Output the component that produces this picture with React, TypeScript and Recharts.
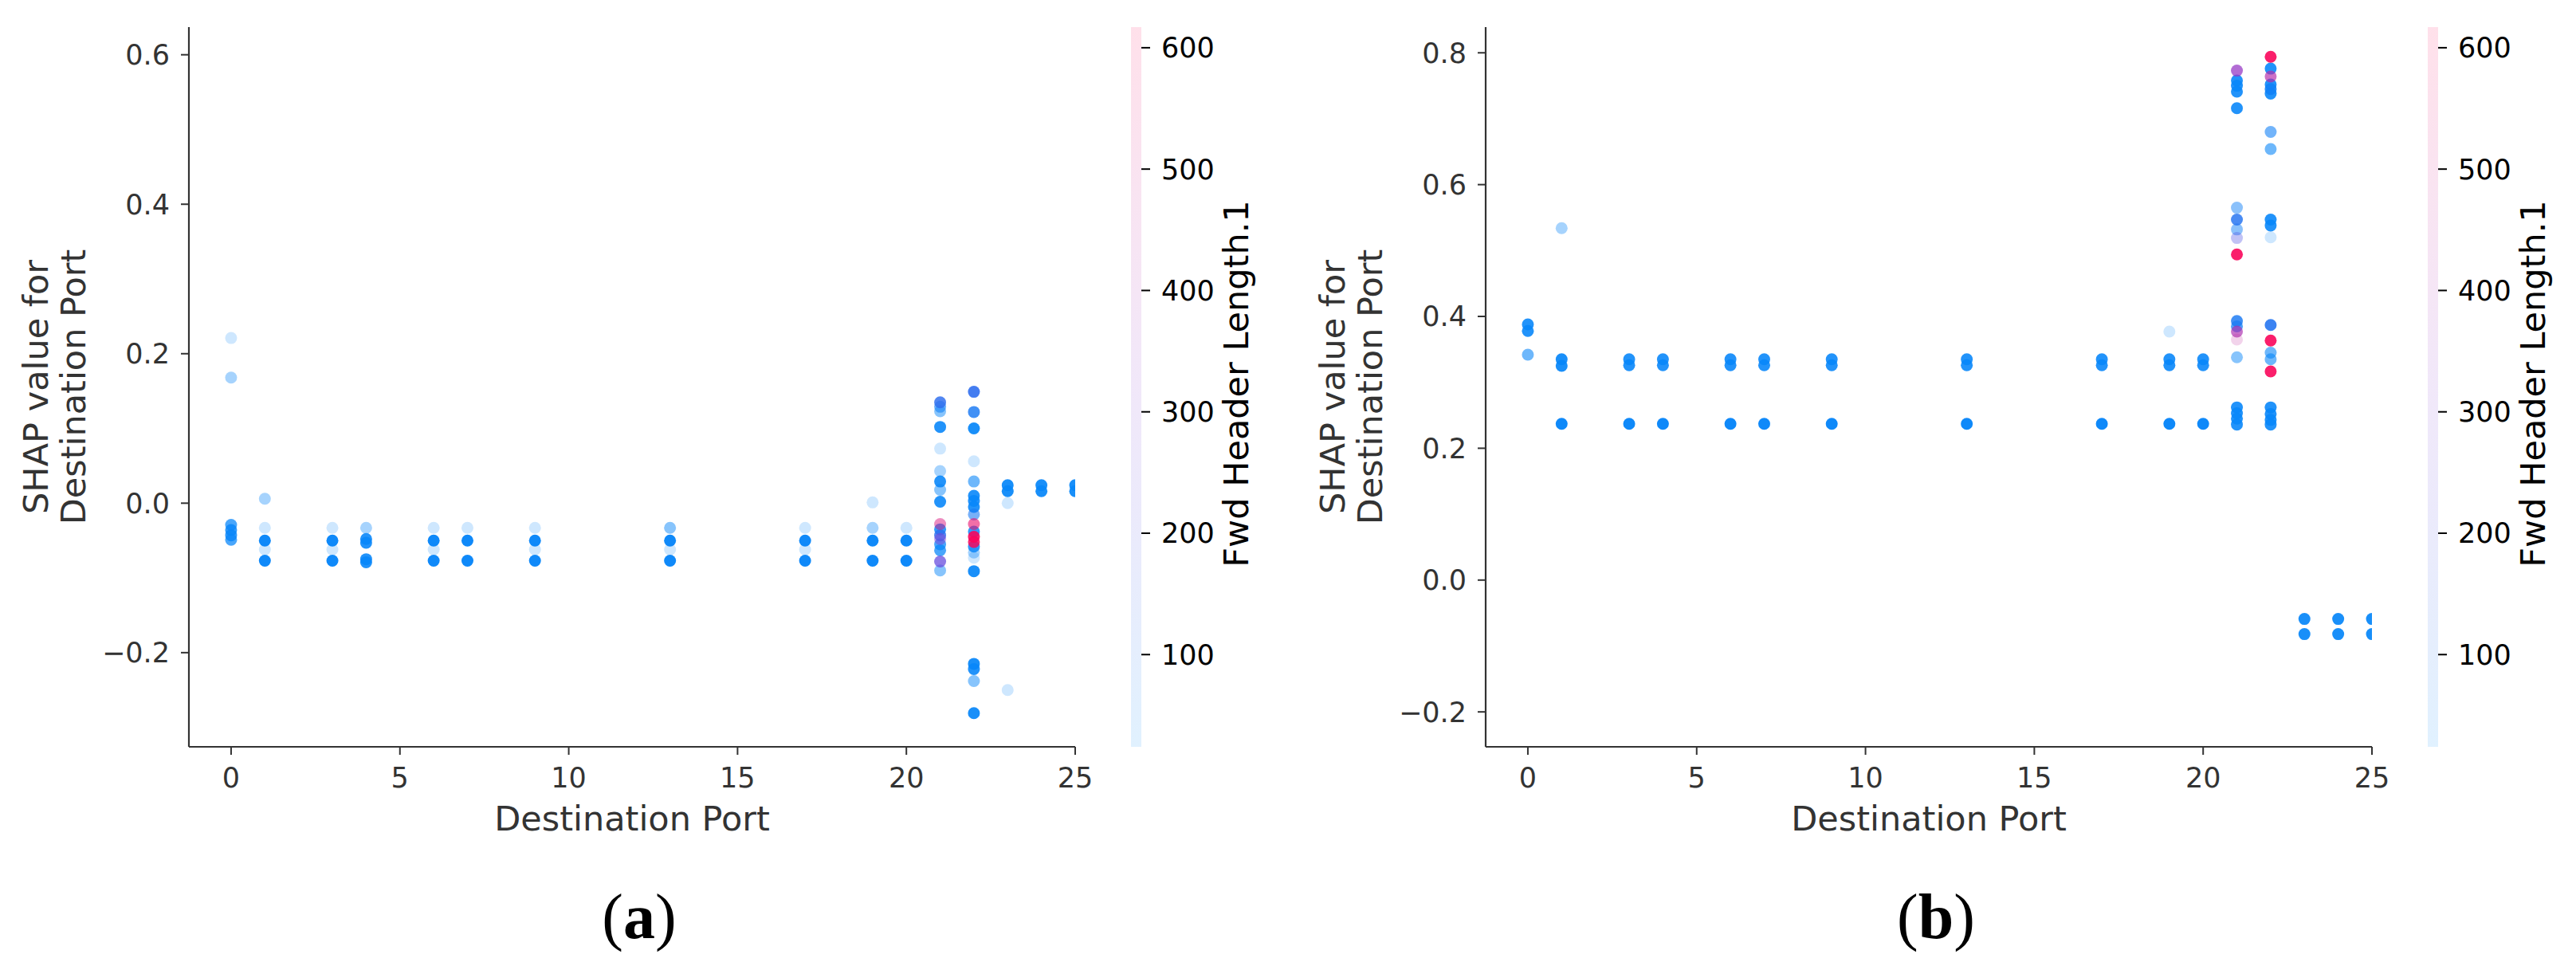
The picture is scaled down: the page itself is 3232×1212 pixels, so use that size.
import React from 'react';
import { ScatterChart, Scatter, XAxis, YAxis } from 'recharts';

// [destination port, SHAP value, Fwd Header Length.1, overlapping samples]
type Pt = [number, number, number, number];

const xTicks = [0, 5, 10, 15, 20, 25];
const shapTicksA = [-0.2, 0, 0.2, 0.4, 0.6];
const shapTicksB = [-0.2, 0, 0.2, 0.4, 0.6, 0.8];
const headerTicks = [100, 200, 300, 400, 500, 600];
const headerRange: [number, number] = [24, 617];

const pointsA: Pt[] = [
  [0, 0.221, 40, 1], [0, 0.168, 40, 2],
  [0, -0.029, 40, 6], [0, -0.036, 40, 8], [0, -0.043, 40, 8], [0, -0.049, 40, 6],
  [1, 0.006, 40, 2], [1, -0.033, 40, 1], [1, -0.05, 40, 16], [1, -0.062, 40, 1], [1, -0.077, 40, 16],
  [3, -0.033, 40, 1], [3, -0.05, 40, 16], [3, -0.062, 40, 1], [3, -0.077, 40, 16],
  [4, -0.033, 40, 2], [4, -0.048, 40, 10], [4, -0.053, 40, 10], [4, -0.075, 40, 10], [4, -0.079, 40, 10],
  [6, -0.033, 40, 1], [6, -0.05, 40, 16], [6, -0.062, 40, 1], [6, -0.077, 40, 16],
  [7, -0.033, 40, 1], [7, -0.05, 40, 16], [7, -0.077, 40, 16],
  [9, -0.033, 40, 1], [9, -0.05, 40, 16], [9, -0.062, 40, 1], [9, -0.077, 40, 16],
  [13, -0.033, 40, 3], [13, -0.05, 40, 16], [13, -0.062, 40, 1], [13, -0.077, 40, 16],
  [17, -0.033, 40, 1], [17, -0.05, 40, 16], [17, -0.062, 40, 1], [17, -0.077, 40, 16],
  [19, 0.001, 40, 1], [19, -0.033, 40, 2], [19, -0.05, 40, 16], [19, -0.077, 40, 16],
  [20, -0.033, 40, 1], [20, -0.05, 40, 16], [20, -0.077, 40, 16],
  [21, 0.135, 120, 8], [21, 0.129, 60, 4], [21, 0.123, 40, 3], [21, 0.102, 40, 10],
  [21, 0.073, 40, 1], [21, 0.043, 40, 2], [21, 0.029, 40, 10], [21, 0.018, 40, 3], [21, 0.002, 40, 10],
  [21, -0.028, 520, 3], [21, -0.035, 40, 8], [21, -0.043, 120, 8], [21, -0.048, 300, 3],
  [21, -0.055, 40, 6], [21, -0.063, 40, 6], [21, -0.078, 240, 6], [21, -0.09, 40, 3],
  [22, 0.149, 120, 10], [22, 0.122, 80, 8], [22, 0.1, 40, 12], [22, 0.056, 40, 1],
  [22, 0.029, 40, 4], [22, 0.01, 40, 10], [22, 0.003, 40, 10], [22, -0.005, 40, 10], [22, -0.015, 80, 4],
  [22, -0.028, 560, 4], [22, -0.038, 40, 8], [22, -0.045, 600, 10], [22, -0.052, 600, 8],
  [22, -0.058, 40, 8], [22, -0.066, 40, 2], [22, -0.073, 40, 1], [22, -0.091, 40, 12],
  [22, -0.215, 40, 12], [22, -0.222, 40, 10], [22, -0.238, 40, 3], [22, -0.281, 40, 12],
  [23, 0.024, 40, 12], [23, 0.016, 40, 12], [23, 0.0, 40, 1], [23, -0.25, 40, 1],
  [24, 0.024, 40, 12], [24, 0.016, 40, 12],
  [25, 0.024, 40, 12], [25, 0.016, 40, 12],
];

const pointsB: Pt[] = [
  [0, 0.388, 40, 10], [0, 0.378, 40, 10], [0, 0.342, 40, 4],
  [1, 0.534, 40, 2], [1, 0.335, 40, 12], [1, 0.325, 40, 12], [1, 0.237, 40, 16],
  [3, 0.335, 40, 10], [3, 0.326, 40, 10], [3, 0.237, 40, 16],
  [4, 0.335, 40, 10], [4, 0.326, 40, 10], [4, 0.237, 40, 16],
  [6, 0.335, 40, 10], [6, 0.326, 40, 10], [6, 0.237, 40, 16],
  [7, 0.335, 40, 10], [7, 0.326, 40, 10], [7, 0.237, 40, 16],
  [9, 0.335, 40, 10], [9, 0.326, 40, 10], [9, 0.237, 40, 16],
  [13, 0.335, 40, 10], [13, 0.326, 40, 10], [13, 0.237, 40, 16],
  [17, 0.335, 40, 10], [17, 0.326, 40, 10], [17, 0.237, 40, 16],
  [19, 0.377, 40, 1], [19, 0.335, 40, 10], [19, 0.326, 40, 10], [19, 0.237, 40, 16],
  [20, 0.335, 40, 10], [20, 0.326, 40, 10], [20, 0.237, 40, 16],
  [21, 0.773, 350, 6], [21, 0.758, 40, 10], [21, 0.75, 40, 10], [21, 0.741, 40, 10], [21, 0.716, 40, 10],
  [21, 0.565, 60, 3], [21, 0.547, 100, 8], [21, 0.532, 60, 3], [21, 0.519, 200, 2], [21, 0.494, 600, 10],
  [21, 0.393, 80, 8], [21, 0.385, 60, 6], [21, 0.377, 400, 5], [21, 0.365, 450, 1], [21, 0.338, 40, 3],
  [21, 0.262, 40, 10], [21, 0.253, 40, 10], [21, 0.245, 40, 10], [21, 0.236, 40, 10],
  [22, 0.794, 600, 10], [22, 0.776, 40, 10], [22, 0.764, 420, 5], [22, 0.752, 40, 10], [22, 0.745, 60, 10],
  [22, 0.738, 40, 10], [22, 0.68, 60, 4], [22, 0.654, 40, 4], [22, 0.547, 40, 10], [22, 0.538, 40, 10],
  [22, 0.52, 40, 1], [22, 0.387, 100, 10], [22, 0.3635, 600, 10], [22, 0.345, 40, 4], [22, 0.335, 40, 4],
  [22, 0.3165, 600, 10], [22, 0.262, 40, 10], [22, 0.252, 40, 10], [22, 0.243, 40, 10], [22, 0.236, 40, 10],
  [23, -0.059, 40, 12], [23, -0.082, 40, 12],
  [24, -0.059, 40, 12], [24, -0.082, 40, 12],
  [25, -0.059, 40, 12], [25, -0.082, 40, 12],
];

const FONT = '"DejaVu Sans", sans-serif';
const INK = '#333333';
const W = 1605;
const H = 1212;
const TOP = 34;
const LEFT = 237;
const RIGHT = 1349;
const BOTTOM = 937;
const MID_X = (LEFT + RIGHT) / 2;
const MID_Y = (TOP + BOTTOM) / 2;

// shap red_blue-like ramp
const ramp: [number, number[]][] = [
  [0, [0, 139, 251]],
  [0.33, [93, 79, 224]],
  [0.5, [138, 61, 208]],
  [0.67, [181, 42, 168]],
  [1, [255, 0, 82]],
];

function redBlue(t: number) {
  const v = Math.max(0, Math.min(1, t));
  for (let i = 1; i < ramp.length; i++) {
    const [t1, c1] = ramp[i];
    const [t0, c0] = ramp[i - 1];
    if (v <= t1) {
      const f = (v - t0) / (t1 - t0);
      const c = c0.map((a, k) => Math.round(a + (c1[k] - a) * f));
      return `rgb(${c[0]},${c[1]},${c[2]})`;
    }
  }
  return 'rgb(255,0,82)';
}

const headerColor = (h: number) => redBlue((h - headerRange[0]) / (headerRange[1] - headerRange[0]));
const fmt = (v: number) => v.toFixed(1).replace('-', '\u2212');

function Dot(props: any) {
  const { cx, cy, payload } = props;
  if (cx == null || cy == null) return null;
  return (
    <circle
      cx={cx}
      cy={cy}
      r={7.5}
      fill={headerColor(payload.header)}
      fillOpacity={1 - Math.pow(0.8, payload.n)}
    />
  );
}

function BarTick(props: any) {
  const { y, payload } = props;
  return (
    <g>
      <line x1={1432} x2={1443} y1={y} y2={y} stroke="#000" strokeWidth={2} />
      <text x={1457} y={y} dy="0.355em" fontSize={35} fontFamily={FONT} fill="#000">
        {payload.value}
      </text>
    </g>
  );
}

function Panel({ points, yDomain, yTicks, tag }: { points: Pt[]; yDomain: [number, number]; yTicks: number[]; tag: string }) {
  const data = [...points]
    .sort((a, b) => a[2] - b[2])
    .map(([port, shap, header, n]) => ({ port, shap, header, n }));
  const gid = `cbar-${tag}`;

  return (
    <ScatterChart width={W} height={H} margin={{ top: TOP, right: 0, bottom: 0, left: 0 }}>
      <defs>
        <linearGradient id={gid} x1="0" y1="1" x2="0" y2="0">
          {ramp.map(([t]) => (
            <stop key={t} offset={t} stopColor={redBlue(t)} stopOpacity={0.12} />
          ))}
        </linearGradient>
      </defs>
      <XAxis
        type="number"
        dataKey="port"
        domain={[-1.25, 25]}
        ticks={xTicks}
        interval={0}
        allowDataOverflow
        height={H - BOTTOM}
        tickSize={10}
        tickMargin={16}
        axisLine={{ stroke: INK, strokeWidth: 2.2 }}
        tickLine={{ stroke: INK, strokeWidth: 2 }}
        tick={{ fill: INK, fontSize: 35, fontFamily: FONT }}
      />
      <YAxis
        yAxisId="shap"
        type="number"
        dataKey="shap"
        domain={yDomain}
        ticks={yTicks}
        interval={0}
        allowDataOverflow
        width={LEFT}
        tickSize={10}
        tickMargin={14}
        tickFormatter={fmt}
        axisLine={{ stroke: INK, strokeWidth: 2.2 }}
        tickLine={{ stroke: INK, strokeWidth: 2 }}
        tick={{ fill: INK, fontSize: 35, fontFamily: FONT }}
      />
      <YAxis
        yAxisId="bar"
        orientation="right"
        type="number"
        domain={headerRange}
        ticks={headerTicks}
        interval={0}
        allowDataOverflow
        width={W - RIGHT}
        axisLine={false}
        tickLine={false}
        tick={(p: any) => <BarTick {...p} />}
      />
      <Scatter yAxisId="shap" data={data} shape={(p: any) => <Dot {...p} />} isAnimationActive={false} />
      <rect x={1419} y={TOP} width={13} height={BOTTOM - TOP} fill={`url(#${gid})`} />
      <text
        transform={`translate(1566, ${MID_Y - 4}) rotate(-90)`}
        textAnchor="middle"
        fontSize={43}
        fontFamily={FONT}
        fill="#000"
      >
        Fwd Header Length.1
      </text>
      <text transform={`translate(60, ${MID_Y}) rotate(-90)`} textAnchor="middle" fontSize={43} fontFamily={FONT} fill={INK}>
        SHAP value for
      </text>
      <text transform={`translate(107, ${MID_Y}) rotate(-90)`} textAnchor="middle" fontSize={43} fontFamily={FONT} fill={INK}>
        Destination Port
      </text>
      <text x={MID_X} y={1042} textAnchor="middle" fontSize={43} fontFamily={FONT} fill={INK}>
        Destination Port
      </text>
      <text x={MID_X + 9} y={1177} textAnchor="middle" fontSize={80} fontFamily='"Liberation Serif", serif' fill="#000">
        (<tspan fontWeight="bold">{tag}</tspan>)
      </text>
    </ScatterChart>
  );
}

export default function App() {
  return (
    <div style={{ position: 'absolute', left: 0, top: 0, width: 3232, height: H, background: '#fff' }}>
      <div style={{ position: 'absolute', left: 0, top: 0 }}>
        <Panel points={pointsA} yDomain={[-0.326, 0.637]} yTicks={shapTicksA} tag="a" />
      </div>
      <div style={{ position: 'absolute', left: 1627, top: 0 }}>
        <Panel points={pointsB} yDomain={[-0.253, 0.839]} yTicks={shapTicksB} tag="b" />
      </div>
    </div>
  );
}
